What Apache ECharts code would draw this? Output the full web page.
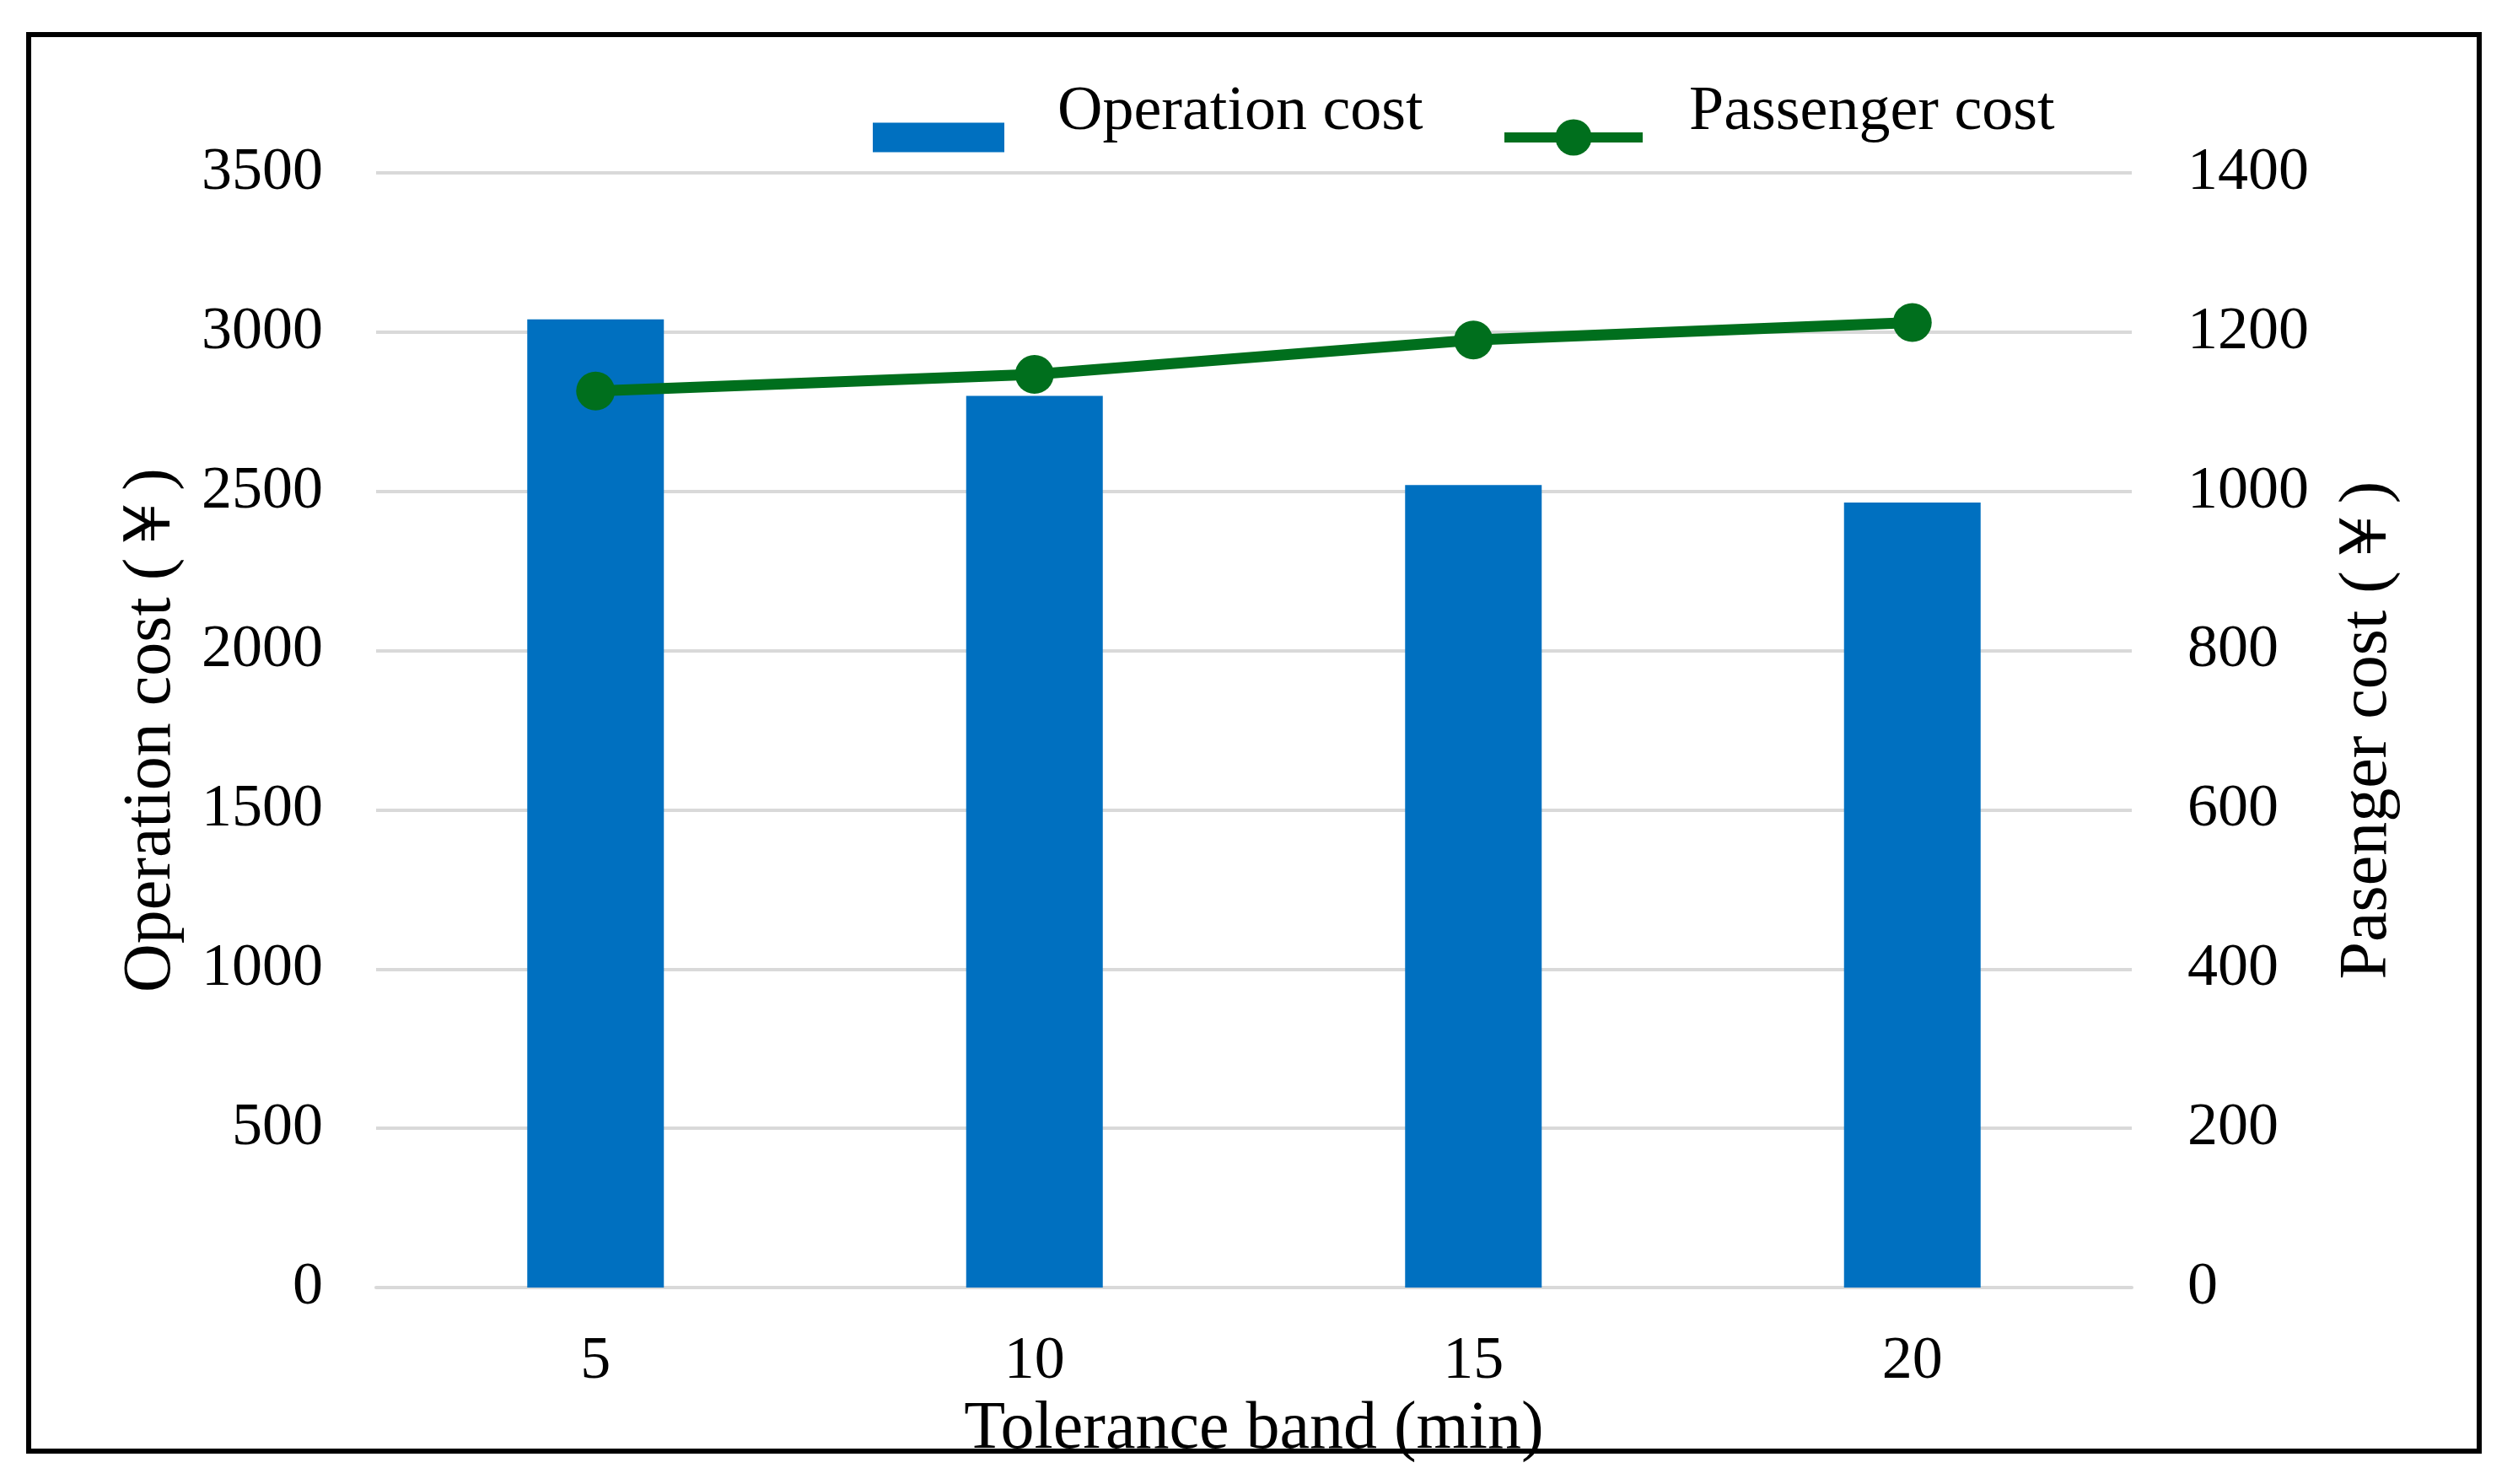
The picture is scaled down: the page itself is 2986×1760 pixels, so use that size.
<!DOCTYPE html>
<html>
<head>
<meta charset="utf-8">
<script src="https://cdn.jsdelivr.net/npm/echarts@6/dist/echarts.min.js"></script>
<style>
html,body{margin:0;padding:0;background:#fff;}
#chart{width:2986px;height:1760px;}
</style>
</head>
<body>
<div id="chart"></div>
<script>
const categories = ['5', '10', '15', '20'];
const operationCost = [3040, 2800, 2520, 2465];
const passengerCost = [1126, 1147, 1190, 1212];
const leftTicks = { min: 0, max: 3500, interval: 500 };
const rightTicks = { min: 0, max: 1400, interval: 200 };

const FONT = "'Liberation Serif', 'Times New Roman', serif";
const GREEN = '#006F1D';
const BLUE = '#0070C0';
const chart = echarts.init(document.getElementById('chart'), null, { renderer: 'canvas' });

const legendText = pad => ({
  fontFamily: FONT, fontSize: 74, color: '#000',
  lineHeight: 58, padding: [0, 0, 0, pad]
});
const raise = name => name + '\n';

chart.setOption({
  backgroundColor: '#ffffff',
  animation: false,
  textStyle: { fontFamily: FONT, color: '#000' },
  graphic: [{
    type: 'rect',
    shape: { x: 34, y: 41, width: 2906, height: 1680 },
    style: { fill: 'none', stroke: '#000', lineWidth: 6 },
    silent: true
  }],
  legend: [{
    left: 1035,
    top: 97,
    padding: 0,
    itemWidth: 156,
    itemHeight: 35,
    icon: 'rect',
    formatter: raise,
    textStyle: legendText(58),
    data: ['Operation cost']
  }, {
    left: 1778,
    top: 97,
    padding: 0,
    itemWidth: 164,
    itemHeight: 54,
    formatter: raise,
    lineStyle: { width: 12 },
    textStyle: legendText(50),
    data: ['Passenger cost']
  }],
  grid: { left: 446, right: 458, top: 205, bottom: 233 },
  xAxis: {
    type: 'category',
    data: categories,
    name: 'Tolerance band (min)',
    nameLocation: 'middle',
    nameGap: 114,
    nameTextStyle: { fontFamily: FONT, fontSize: 80, color: '#000' },
    axisLine: { show: true, lineStyle: { color: '#d9d9d9', width: 4 } },
    axisTick: { show: false },
    axisLabel: { fontFamily: FONT, fontSize: 72, color: '#000', margin: 52 },
    splitLine: { show: false }
  },
  yAxis: [{
    type: 'value',
    min: leftTicks.min, max: leftTicks.max, interval: leftTicks.interval,
    name: 'Operation cost (￥)',
    nameLocation: 'middle',
    nameRotate: 90,
    nameGap: 226,
    nameTextStyle: { fontFamily: FONT, fontSize: 80, color: '#000' },
    axisLine: { show: false },
    axisTick: { show: false },
    axisLabel: { fontFamily: FONT, fontSize: 72, color: '#000', margin: 63, formatter: v => String(v) },
    splitLine: { show: true, lineStyle: { color: '#d9d9d9', width: 4 } }
  }, {
    type: 'value',
    position: 'right',
    min: rightTicks.min, max: rightTicks.max, interval: rightTicks.interval,
    name: 'Pasenger cost (￥)',
    nameLocation: 'middle',
    nameRotate: 90,
    nameGap: 240,
    nameTextStyle: { fontFamily: FONT, fontSize: 80, color: '#000' },
    axisLine: { show: false },
    axisTick: { show: false },
    axisLabel: { fontFamily: FONT, fontSize: 72, color: '#000', margin: 66, formatter: v => String(v) },
    splitLine: { show: false }
  }],
  series: [{
    name: 'Operation cost',
    type: 'bar',
    data: operationCost,
    barWidth: 162,
    itemStyle: { color: BLUE },
    yAxisIndex: 0
  }, {
    name: 'Passenger cost',
    type: 'line',
    data: passengerCost,
    yAxisIndex: 1,
    symbol: 'circle',
    symbolSize: 46,
    lineStyle: { color: GREEN, width: 13 },
    itemStyle: { color: GREEN }
  }]
});
</script>
</body>
</html>
